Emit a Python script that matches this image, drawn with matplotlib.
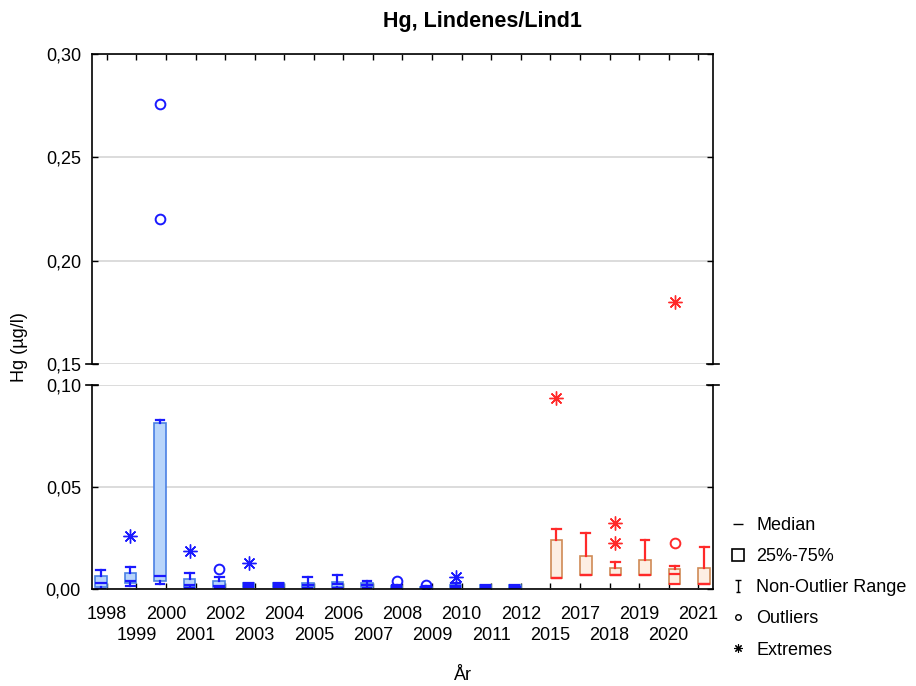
import numpy as np
import matplotlib
matplotlib.use('Agg')
import matplotlib.pyplot as plt
from matplotlib.lines import Line2D
from matplotlib.path import Path
from matplotlib.ticker import FuncFormatter

plt.rcParams['font.family'] = ['Liberation Sans', 'DejaVu Sans']

# categories
years = ['1998', '1999', '2000', '2001', '2002', '2003', '2004', '2005', '2006',
         '2007', '2008', '2009', '2010', '2011', '2012',
         '2015', '2017', '2018', '2019', '2020', '2021']

# first group (blue), 1998-2012
blue_years = years[:15]
blue_whislo = [0.0002, 0.0016, 0.0025, 0.0004, 0.0003, 0.0008, 0.0008, 0.0005, 0.0005, 0.0005, 0.0003, 0.0003, 0.0005, 0.0003, 0.0003]
blue_q1 = [0.0012, 0.0028, 0.0039, 0.0010, 0.0008, 0.0010, 0.0010, 0.0010, 0.0010, 0.0010, 0.0005, 0.0005, 0.0010, 0.0005, 0.0005]
blue_med = [0.0030, 0.0040, 0.0064, 0.0022, 0.0015, 0.0020, 0.0020, 0.0019, 0.0023, 0.0020, 0.0010, 0.0008, 0.0015, 0.0012, 0.0012]
blue_q3 = [0.0063, 0.0080, 0.0815, 0.0050, 0.0038, 0.0028, 0.0028, 0.0030, 0.0034, 0.0028, 0.0015, 0.0012, 0.0020, 0.0020, 0.0020]
blue_whishi = [0.0093, 0.0110, 0.0830, 0.0080, 0.0059, 0.0030, 0.0030, 0.0057, 0.0067, 0.0038, 0.0018, 0.0014, 0.0030, 0.0022, 0.0022]
blue_out_years = ['2000', '2000', '2002', '2008', '2009']
blue_out_vals = [0.276, 0.220, 0.0100, 0.0041, 0.0020]
blue_ext_years = ['1999', '2001', '2003', '2010']
blue_ext_vals = [0.0260, 0.0186, 0.0126, 0.0060]

# second group (red), 2015-2021
red_years = years[15:]
red_whislo = [0.0054, 0.0069, 0.0069, 0.0069, 0.0025, 0.0025]
red_q1 = [0.0054, 0.0069, 0.0069, 0.0069, 0.0025, 0.0025]
red_med = [0.0054, 0.0069, 0.0069, 0.0069, 0.0072, 0.0025]
red_q3 = [0.0242, 0.0162, 0.0101, 0.0141, 0.0097, 0.0104]
red_whishi = [0.0293, 0.0273, 0.0134, 0.0242, 0.0114, 0.0207]
red_out_years = ['2020']
red_out_vals = [0.0227]
red_ext_years = ['2015', '2018', '2018', '2020']
red_ext_vals = [0.0935, 0.0322, 0.0224, 0.180]

W, H = 916, 686
fig = plt.figure(figsize=(W / 100, H / 100), dpi=100)
left, right = 92 / W, 713 / W
ax_top = fig.add_axes([left, 1 - 364 / H, right - left, (364 - 54) / H])
ax_bot = fig.add_axes([left, 1 - 589 / H, right - left, (589 - 385) / H])

pos = {y: i for i, y in enumerate(years)}
asterisk = (8, 2, 0)


def stats(lo, q1, med, q3, hi):
    return [dict(whislo=a, q1=b, med=c, q3=d, whishi=e, fliers=[])
            for a, b, c, d, e in zip(lo, q1, med, q3, hi)]


def draw(ax):
    ax.bxp(stats(blue_whislo, blue_q1, blue_med, blue_q3, blue_whishi),
           positions=[pos[y] - 0.2 for y in blue_years], widths=0.39, capwidths=0.3,
           patch_artist=True, showfliers=False, manage_ticks=False,
           boxprops=dict(facecolor='#b8d5fb', edgecolor='#4a80e4', linewidth=1.2),
           medianprops=dict(color='#1a1aff', linewidth=1.6),
           whiskerprops=dict(color='#1a1aff', linewidth=1.6),
           capprops=dict(color='#1a1aff', linewidth=1.6))
    ax.bxp(stats(red_whislo, red_q1, red_med, red_q3, red_whishi),
           positions=[pos[y] + 0.2 for y in red_years], widths=0.39, capwidths=0.3,
           patch_artist=True, showfliers=False, manage_ticks=False,
           boxprops=dict(facecolor='#fdeee3', edgecolor='#cf8a55', linewidth=1.2),
           medianprops=dict(color='#ff2a2a', linewidth=1.6),
           whiskerprops=dict(color='#ff2a2a', linewidth=1.6),
           capprops=dict(color='#ff2a2a', linewidth=1.6))
    ax.plot([pos[y] - 0.2 for y in blue_out_years], blue_out_vals, 'o', ms=7,
            mfc='none', mec='#1a1aff', mew=1.4)
    ax.plot([pos[y] + 0.2 for y in red_out_years], red_out_vals, 'o', ms=7,
            mfc='none', mec='#ff2a2a', mew=1.4)
    ax.plot([pos[y] - 0.2 for y in blue_ext_years], blue_ext_vals, ls='none',
            marker=asterisk, ms=10, mec='#1a1aff', mew=1.0)
    ax.plot([pos[y] + 0.2 for y in red_ext_years], red_ext_vals, ls='none',
            marker=asterisk, ms=10, mec='#ff2a2a', mew=1.0)
    ax.set_xlim(-0.5, len(years) - 0.5)
    ax.grid(axis='y', color='#d9d9d9', linewidth=1.3)
    ax.set_axisbelow(True)
    ax.yaxis.set_major_formatter(FuncFormatter(lambda v, _: f'{v:.2f}'.replace('.', ',')))
    ax.tick_params(axis='both', which='both', direction='in', length=4, width=1,
                   labelsize=13, pad=8, left=True, right=True)
    for s in ax.spines.values():
        s.set_linewidth(1.2)


draw(ax_top)
draw(ax_bot)

ax_top.set_ylim(0.15, 0.30)
ax_top.set_yticks([0.15, 0.20, 0.25, 0.30])
ax_top.spines['bottom'].set_visible(False)
ax_top.set_xticks(range(len(years)))
ax_top.tick_params(axis='x', bottom=False, top=True, labelbottom=False)

ax_bot.set_ylim(0, 0.10)
ax_bot.set_yticks([0, 0.05, 0.10])
ax_bot.spines['top'].set_visible(False)
# staggered labels: even ones on the first row, odd ones on the second
ax_bot.set_xticks(range(0, len(years), 2))
ax_bot.set_xticklabels(years[0::2])
ax_bot.set_xticks(range(1, len(years), 2), minor=True)
ax_bot.set_xticklabels(years[1::2], minor=True)
ax_bot.tick_params(axis='x', which='major', pad=12)
ax_bot.tick_params(axis='x', which='minor', pad=27.5)

# break caps
for ax, yb in [(ax_top, 0), (ax_bot, 1)]:
    for xb in (0, 1):
        ax.plot([xb - 0.009, xb + 0.009], [yb, yb], transform=ax.transAxes,
                color='k', lw=1.2, clip_on=False)

fig.text(482 / W, 1 - 22 / H, 'Hg, Lindenes/Lind1', ha='center', va='center',
         fontsize=15.5, fontweight='bold')
fig.text(463 / W, 1 - 675 / H, 'År', ha='center', va='center', fontsize=13)
fig.text(20 / W, 1 - 347 / H, 'Hg (µg/l)', ha='center', va='center', fontsize=13,
         rotation=90)

ibeam = Path([(-0.5, 1), (0.5, 1), (0, 1), (0, -1), (-0.3, -1), (0.3, -1)],
             [Path.MOVETO, Path.LINETO, Path.MOVETO, Path.LINETO, Path.MOVETO, Path.LINETO])
handles = [
    Line2D([], [], ls='none', marker='_', ms=7, mec='k', mew=1),
    Line2D([], [], ls='none', marker='s', ms=8, mfc='none', mec='k', mew=1.2),
    Line2D([], [], ls='none', marker=ibeam, ms=9, mec='k', mew=1),
    Line2D([], [], ls='none', marker='o', ms=4, mfc='none', mec='k', mew=1),
    Line2D([], [], ls='none', marker=asterisk, ms=6, mec='k', mew=0.8),
]
labels = ['Median', '25%-75%', 'Non-Outlier Range', 'Outliers', 'Extremes']
fig.legend(handles, labels, loc='upper left', bbox_to_anchor=(722 / W, 1 - 510 / H),
           frameon=False, fontsize=13, labelspacing=0.78, handlelength=1.0,
           handletextpad=0.5, borderaxespad=0)

fig.savefig('out.png', dpi=100)
